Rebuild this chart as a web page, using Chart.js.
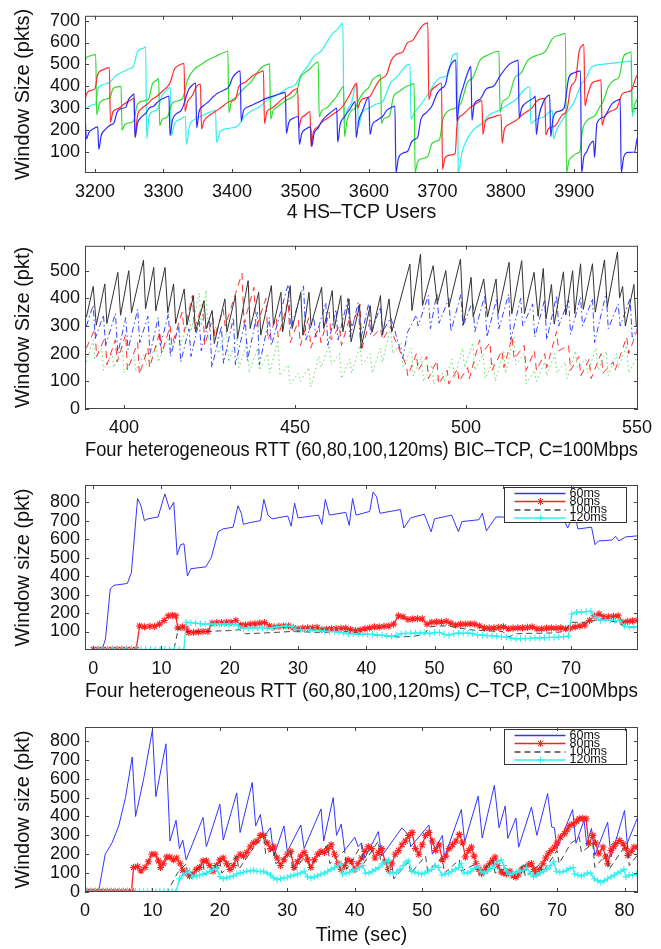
<!DOCTYPE html>
<html><head><meta charset="utf-8">
<script src="https://cdn.jsdelivr.net/npm/chart.js@4/dist/chart.umd.min.js"></script>
<style>
html,body{margin:0;padding:0;background:#fff;}
body{width:661px;height:949px;position:relative;overflow:hidden;}
canvas{position:absolute;left:0;}
</style>
</head><body>
<canvas id="c1"></canvas><canvas id="c2"></canvas><canvas id="c3"></canvas><canvas id="c4"></canvas>
<script>
// ---------------- Panel 1 : 4 HS-TCP users ----------------
const p1XTicks = [3200,3300,3400,3500,3600,3700,3800,3900];
const p1YTicks = [100,200,300,400,500,600,700];
const p1Blue = [[3185,315],[3187.5,160],[3191,188],[3197,205],[3204,215],[3205.5,112],[3209,175],[3214,200],[3222,222],[3228,235],[3232,280],[3238,298],[3245,305],[3249,340],[3255,360],[3257,365],[3258.5,165],[3262,230],[3268,260],[3275,280],[3279,300],[3286,310],[3292,330],[3300,345],[3308,355],[3309.5,175],[3313,245],[3319,275],[3326,290],[3330,320],[3336,380],[3342,405],[3347,415],[3348.5,210],[3352,285],[3358,310],[3366,330],[3372,350],[3380,370],[3390,385],[3396,400],[3401,440],[3407,462],[3412,470],[3413.5,240],[3417,290],[3423,305],[3432,318],[3440,330],[3450,345],[3460,355],[3470,365],[3478,372],[3479.5,185],[3483,235],[3490,255],[3497,262],[3498.5,135],[3502,185],[3508,205],[3515,215],[3516.5,125],[3520,185],[3526,210],[3532,245],[3540,270],[3548,290],[3553,300],[3554.5,145],[3558,225],[3564,260],[3572,295],[3580,330],[3581.5,165],[3585,240],[3591,290],[3597,340],[3600,350],[3601.5,180],[3605,225],[3612,245],[3620,262],[3626,290],[3634,305],[3638,310],[3639.5,5],[3643,70],[3650,95],[3657,105],[3662,145],[3668,160],[3671,165],[3676,250],[3684,280],[3692,310],[3700,370],[3706,390],[3712,410],[3716,470],[3722,510],[3727,520],[3728.5,240],[3732,330],[3738,400],[3744,460],[3749,490],[3750.5,245],[3754,320],[3762,340],[3772,390],[3782,400],[3792,450],[3805,500],[3814,515],[3818,520],[3819.5,255],[3823,300],[3832,330],[3840,345],[3843,355],[3844.5,180],[3848,260],[3855,330],[3864,360],[3865.5,170],[3869,255],[3876,285],[3885,300],[3892,440],[3900,462],[3909,470],[3910.5,5],[3914,80],[3918,100],[3922,130],[3928,150],[3929.5,75],[3933,230],[3943,260],[3955,320],[3962,335],[3967,340],[3968.5,5],[3972,75],[3978,98],[3988,100],[3991,150],[3995,205]];
const p1Red = [[3185,330],[3188,368],[3195,382],[3200,390],[3204,455],[3212,476],[3221,485],[3222.5,235],[3226,282],[3234,298],[3242,318],[3250,333],[3257,345],[3258.5,170],[3262,265],[3268,298],[3276,318],[3284,342],[3292,358],[3300,382],[3306,398],[3310,420],[3316,478],[3324,498],[3330,505],[3331.5,285],[3335,328],[3342,358],[3348,398],[3354,410],[3355.5,205],[3359,240],[3366,265],[3374,282],[3382,298],[3390,318],[3398,333],[3405,340],[3410,398],[3420,420],[3430,448],[3440,463],[3446,470],[3447.5,230],[3451,283],[3458,300],[3466,320],[3474,343],[3482,358],[3490,382],[3496,390],[3497.5,210],[3501,252],[3507,268],[3514,285],[3515.5,125],[3519,192],[3525,213],[3532,238],[3540,255],[3548,273],[3556,290],[3562,310],[3570,350],[3578,398],[3582,415],[3583.5,300],[3588,335],[3596,348],[3602,355],[3608,390],[3616,430],[3626,455],[3633,520],[3640,545],[3650,560],[3656,598],[3664,610],[3672,650],[3680,682],[3686,690],[3687.5,340],[3691,378],[3698,400],[3706,415],[3707.5,20],[3711,72],[3718,86],[3726,92],[3729,235],[3736,268],[3746,298],[3756,320],[3765,335],[3766.5,180],[3770,238],[3780,258],[3793,270],[3794.5,140],[3798,205],[3806,228],[3815,245],[3826,275],[3838,300],[3846,335],[3857,345],[3858.5,178],[3862,205],[3872,220],[3882,268],[3889,290],[3895,398],[3902,432],[3907,560],[3911,585],[3914,590],[3915.5,310],[3919,355],[3926,415],[3934,425],[3939,430],[3940.5,222],[3944,258],[3952,285],[3962,300],[3970,365],[3978,375],[3984,385],[3990,440],[3995,462]];
const p1Green = [[3185,500],[3187,528],[3192,538],[3201,545],[3202.5,270],[3206,318],[3212,338],[3222,350],[3226,388],[3232,397],[3238,400],[3239.5,200],[3243,223],[3250,233],[3256,240],[3262,318],[3270,333],[3278,340],[3284,412],[3290,428],[3293,435],[3294.5,220],[3298,248],[3306,262],[3312,318],[3320,333],[3328,345],[3335,428],[3345,478],[3355,500],[3365,520],[3375,535],[3385,550],[3394,560],[3395.5,280],[3399,328],[3406,350],[3414,378],[3420,398],[3428,420],[3436,458],[3444,488],[3452,500],[3455,502],[3456.5,250],[3460,288],[3466,305],[3472,320],[3480,338],[3488,350],[3494,370],[3500,438],[3506,460],[3514,480],[3520,500],[3526,510],[3527.5,260],[3531,288],[3538,300],[3546,328],[3552,350],[3558,380],[3563,400],[3564.5,170],[3568,243],[3574,288],[3580,300],[3586,343],[3594,378],[3600,395],[3605,428],[3612,445],[3617,452],[3618.5,230],[3622,253],[3630,265],[3636,353],[3644,375],[3652,395],[3660,405],[3666,412],[3667.5,5],[3671,55],[3678,70],[3686,80],[3692,138],[3700,150],[3703,155],[3708,248],[3716,288],[3726,300],[3734,320],[3744,418],[3752,440],[3762,518],[3772,540],[3790,560],[3791.5,280],[3795,328],[3804,350],[3813,438],[3822,460],[3832,518],[3844,540],[3858,560],[3868,618],[3880,635],[3887,642],[3888.5,5],[3892,58],[3897,78],[3903,93],[3908,100],[3912,200],[3920,248],[3930,266],[3936,300],[3942,330],[3950,400],[3958,428],[3965,440],[3972,538],[3980,553],[3983,557],[3984.5,280],[3989,325],[3995,354]];
const p1Cyan = [[3185,290],[3190,305],[3196,315],[3201,320],[3205,393],[3212,408],[3222,420],[3230,448],[3240,465],[3250,480],[3256,490],[3262,558],[3270,573],[3274,580],[3275.5,160],[3279,263],[3285,285],[3292,300],[3298,358],[3304,380],[3310,395],[3311.5,175],[3316,228],[3325,250],[3332,262],[3333.5,135],[3338,218],[3346,250],[3356,265],[3366,280],[3376,290],[3377.5,145],[3383,193],[3395,208],[3408,218],[3420,268],[3430,290],[3440,305],[3452,338],[3462,355],[3472,373],[3482,393],[3492,405],[3502,458],[3510,490],[3520,538],[3530,560],[3538,598],[3546,638],[3554,660],[3559,680],[3562,690],[3563.5,245],[3568,288],[3575,330],[3580,398],[3583,410],[3584.5,215],[3590,278],[3600,300],[3612,320],[3620,330],[3632,418],[3640,440],[3650,478],[3656,498],[3660,500],[3661.5,250],[3666,278],[3672,300],[3685,358],[3697,418],[3705,440],[3715,450],[3722,538],[3729,550],[3730.5,3],[3736,98],[3745,168],[3755,208],[3765,230],[3775,268],[3790,290],[3805,320],[3815,340],[3828,388],[3835,398],[3836.5,230],[3845,250],[3855,260],[3868,290],[3869.5,160],[3874,200],[3885,258],[3892,293],[3900,330],[3910,408],[3918,440],[3925,488],[3940,500],[3960,507],[3975,512],[3983,515],[3984.5,263],[3990,300],[3995,318]];

// ---------------- Panel 2 : BIC-TCP ----------------
const p2XTicks = [400,450,500,550];
const p2YTicks = [0,100,200,300,400,500];
const p2Black = [[389,332],[391,443],[391.9,303],[394.4,452],[395,309],[398.2,494],[399,339],[401.4,500],[402.2,348],[405.7,538],[406.3,362],[408.7,512],[409.3,355],[412,512],[412.8,348],[414.5,452],[415.1,309],[417.6,434],[418.4,303],[420.3,410],[420.9,279],[423.4,392],[424,290],[425.8,356],[426.4,237],[429.5,398],[430.1,279],[432.6,410],[433.2,255],[436.3,464],[436.9,291],[439.4,422],[440,267],[443.1,446],[443.7,303],[445.9,422],[446.4,279],[448.6,446],[449.2,291],[451.7,422],[452.3,267],[454.1,422],[454.7,303],[457.8,440],[458.4,291],[460.9,428],[461.5,291],[463.4,410],[464,279],[465.8,398],[466.4,243],[468.9,374],[469.3,219],[472,374],[472.6,279],[475,410],[475.6,267],[477.5,398],[478.3,279],[483.6,524],[484.2,356],[486.7,560],[487.3,374],[490.4,518],[491.6,380],[494.1,500],[495,368],[498.4,542],[499.2,303],[501.5,476],[502.1,333],[505.2,470],[506.3,333],[508.8,470],[509.4,345],[512.6,530],[513.4,344],[516.3,536],[517.1,344],[519.9,494],[521.1,335],[522.6,508],[523.4,325],[525,450],[525.8,307],[528.5,496],[529.2,340],[531.2,500],[531.8,345],[533.5,525],[534.3,360],[537,525],[537.8,350],[540.5,539],[541.3,370],[544.3,568],[544.9,401],[545.8,443],[546.6,300],[549.1,450],[549.8,300],[550.5,305]];
const p2Blue = [[389,300],[391,375],[391.6,255],[394,340],[394.6,230],[397.5,345],[398.2,200],[400.5,330],[401.2,215],[404,360],[404.6,240],[407,335],[407.6,200],[410,330],[410.6,225],[413,345],[413.6,190],[416,300],[416.6,170],[419,290],[419.6,190],[422,320],[422.6,210],[425,330],[425.7,150],[428.5,300],[429.1,165],[432,330],[432.6,160],[435.5,320],[436.1,175],[439,350],[439.6,160],[442.5,330],[443.1,230],[448,450],[448.7,290],[452.5,445],[453.2,250],[455.5,330],[456.1,260],[459,385],[459.6,230],[462,360],[462.6,250],[465.5,400],[466.1,260],[468.5,385],[469.1,245],[471.5,380],[472.1,270],[475,370],[475.6,280],[478,330],[478.8,300],[481.5,183],[483,280],[485.5,340],[486,300],[489,410],[489.6,290],[491.5,420],[492.1,310],[495,400],[495.6,280],[498.5,415],[499.1,300],[502,390],[502.6,280],[505.5,410],[506.1,260],[509,400],[509.6,290],[512.5,415],[513.1,250],[516,400],[516.6,300],[519.5,380],[520.1,260],[523,395],[523.6,250],[526.5,410],[527.1,300],[530,395],[530.6,270],[533.5,405],[534.1,300],[537,400],[537.6,240],[541,420],[541.6,290],[544.5,380],[545.1,300],[548,400],[548.6,260],[550.5,300]];
const p2Red = [[389,220],[391.5,290],[392,190],[394.5,260],[395,160],[397.5,250],[398,170],[400.5,270],[401,140],[404,240],[404.5,125],[407,220],[407.5,150],[410.5,280],[411,200],[413.5,300],[414,230],[417,350],[417.6,280],[420,410],[420.6,290],[423,380],[423.6,230],[426,330],[426.6,260],[429,360],[429.6,300],[434.5,490],[435.1,310],[438,440],[438.6,290],[441.5,400],[442.1,250],[444.5,330],[445.1,260],[448,390],[448.6,240],[451,320],[451.6,230],[454,330],[454.6,220],[457,300],[457.6,240],[460,350],[460.6,250],[463,300],[463.6,230],[466,330],[466.6,300],[469,380],[469.6,220],[472,320],[472.6,260],[475,290],[475.6,250],[478,300],[478.6,270],[481,200],[482.5,160],[483,120],[485.5,200],[486,140],[488.5,190],[489,110],[491.5,175],[492,90],[494.5,140],[495,90],[497.5,145],[498,100],[500.5,150],[501,110],[504,250],[504.6,200],[507,240],[507.6,140],[510.5,210],[511.1,150],[513.5,260],[514.1,180],[517,230],[517.6,140],[520,210],[520.6,140],[523,200],[523.6,150],[526.5,280],[527.1,210],[530,230],[530.6,140],[533,190],[533.6,120],[536,180],[536.6,110],[539.5,200],[540.1,130],[543,170],[543.6,140],[547,260],[547.6,200],[550.5,300]];
const p2Green = [[389,170],[391,250],[391.5,180],[393.5,220],[394,140],[396.5,200],[397,150],[399.5,230],[400,130],[403,190],[403.5,140],[406,200],[406.5,160],[409.5,230],[410,170],[413,260],[413.5,200],[416,300],[416.6,230],[419,330],[419.6,280],[422,420],[422.6,300],[424,430],[424.6,250],[427,300],[427.6,200],[430,280],[430.6,170],[433,260],[433.6,150],[436,240],[436.6,130],[439,220],[439.6,140],[442,200],[442.6,130],[445,250],[445.6,120],[448,160],[448.6,90],[451,130],[451.6,100],[454,150],[454.6,80],[457,190],[457.6,150],[460,230],[460.6,160],[463,200],[463.6,110],[466,180],[466.6,130],[469,230],[469.6,160],[472,200],[472.6,130],[475,220],[475.6,170],[478,300],[478.6,200],[481,240],[481.6,150],[484,220],[484.6,120],[487,190],[487.6,100],[490,160],[490.6,90],[493,130],[493.6,100],[496,180],[496.6,110],[499,220],[499.6,150],[502,240],[502.6,140],[505,200],[505.6,110],[508,170],[508.6,100],[511,210],[511.6,130],[514,260],[514.6,160],[517,200],[517.6,90],[520,140],[520.6,100],[523,170],[523.6,120],[526,200],[526.6,130],[529,170],[529.6,110],[532,210],[532.6,150],[535,180],[535.6,130],[538,220],[538.6,140],[541,210],[541.6,120],[544,200],[544.6,150],[547,230],[547.6,130],[550.5,200]];

// ---------------- Panel 3 : C-TCP ----------------
const p3XTicks = [0,10,20,30,40,50,60,70];
const p3YTicks = [100,200,300,400,500,600,700,800];
const rttLabels = ['60ms','80ms','100ms','120ms'];
const p3Blue = [[-1.2,0],[1.3,0],[1.8,60],[2.5,330],[3,350],[5,360],[5.6,420],[6.5,820],[7,780],[7.5,700],[8,710],[9.5,720],[10.5,845],[11.2,760],[11.8,800],[12.3,515],[12.8,570],[13.3,575],[13.8,400],[14.3,440],[16.5,450],[17.3,500],[18.3,640],[19,655],[20.5,665],[21.2,780],[21.7,740],[22,680],[23,690],[24.5,700],[25,815],[25.6,730],[26.2,710],[28.5,725],[29,670],[29.5,795],[30,715],[33,730],[33.5,680],[34,815],[34.6,730],[37,745],[37.5,675],[38,820],[38.5,730],[40.5,750],[41,855],[41.5,830],[42,740],[45,760],[45.5,660],[46.5,715],[48.5,735],[49.5,640],[50,710],[52.5,730],[53.5,640],[54,695],[56.5,705],[57,740],[57.6,645],[59,720],[60,720],[61,700],[62,740],[64,740],[66,720],[68,740],[69,700],[69.5,660],[70.5,745],[71,655],[73,665],[73.5,570],[74,590],[76,595],[76.5,615],[77,590],[78,612],[79.8,618]];
const p3Red = [[0,3],[0.7,3],[1.4,3],[2.1,3],[2.8,3],[3.5,3],[4.2,3],[4.9,3],[5.6,3],[6.3,3],[6.8,130],[7.5,125],[8.3,128],[9,128],[9.7,140],[10.4,160],[11,185],[11.6,188],[12.1,185],[12.4,120],[13.1,125],[13.6,118],[14,95],[14.7,95],[15.4,98],[16.1,100],[16.8,100],[17.4,145],[18.1,148],[18.8,148],[19.5,150],[20.2,150],[20.9,160],[21.6,135],[22.3,135],[23,140],[23.7,142],[24.4,145],[25.1,148],[25.8,130],[26.5,125],[27.2,128],[27.9,130],[28.6,130],[29.3,120],[30,115],[30.7,118],[31.4,120],[32.1,120],[32.8,122],[33.5,110],[34.2,112],[34.9,115],[35.6,115],[36.3,117],[37,118],[37.7,110],[38.4,105],[39.1,108],[39.8,115],[40.5,120],[41.2,125],[41.9,125],[42.6,128],[43.3,130],[44,140],[44.7,185],[45.4,180],[46.1,165],[46.8,168],[47.5,170],[48.2,168],[48.9,140],[49.6,150],[50.3,152],[51,152],[51.7,155],[52.4,145],[53.1,135],[53.8,140],[54.5,140],[55.2,142],[55.9,140],[56.6,130],[57.3,120],[58,118],[58.7,120],[59.4,122],[60.1,125],[60.8,115],[61.5,118],[62.2,120],[62.9,120],[63.6,122],[64.3,125],[65,115],[65.7,115],[66.4,118],[67.1,120],[67.8,118],[68.5,120],[69.2,115],[69.9,120],[70.6,125],[71.3,130],[72,135],[72.7,160],[73.4,185],[74.1,195],[74.8,180],[75.5,180],[76.2,182],[76.9,185],[77.6,150],[78.3,155],[79,158],[79.7,160]];
const p3Black = [[-1.2,0],[11.8,0],[12.5,120],[13,100],[16,100],[20,105],[21.5,110],[22.3,88],[25,92],[29,100],[31,98],[33,95],[35,98],[37,100],[38,95],[40,85],[43,75],[45,70],[47,75],[48.5,85],[49.3,125],[50.5,130],[52,130],[53.5,120],[55,110],[57,105],[60,100],[60.8,70],[62,88],[64,90],[67,92],[69,100],[70,150],[72,150],[73,155],[74,165],[75,160],[77,150],[78,120],[79.8,125]];
const p3Cyan = [[0,3],[0.7,3],[1.4,3],[2.1,3],[2.8,3],[3.5,3],[4.2,3],[4.9,3],[5.6,3],[6.3,3],[7,3],[7.7,3],[8.4,3],[9.1,3],[9.8,3],[10.5,3],[11.2,3],[11.9,3],[12.6,3],[13.3,3],[13.6,150],[14.3,148],[15,145],[15.7,142],[16.4,140],[17.1,142],[17.8,140],[18.5,140],[19.2,142],[19.9,140],[20.6,140],[21.3,130],[22,118],[22.7,118],[23.4,120],[24.1,120],[24.8,122],[25.5,118],[26.2,120],[26.9,125],[27.6,128],[28.3,130],[29,128],[29.7,112],[30.4,110],[31.1,110],[31.8,108],[32.5,105],[33.2,105],[33.9,102],[34.6,100],[35.3,100],[36,98],[36.7,92],[37.4,88],[38.1,88],[38.8,85],[39.5,85],[40.2,85],[40.9,85],[41.6,82],[42.3,80],[43,78],[43.7,75],[44.4,80],[45.1,88],[45.8,90],[46.5,90],[47.2,92],[47.9,92],[48.6,95],[49.3,88],[50,95],[50.7,95],[51.4,85],[52.1,80],[52.8,88],[53.5,92],[54.2,90],[54.9,92],[55.6,88],[56.3,82],[57,80],[57.7,78],[58.4,78],[59.1,75],[59.8,72],[60.5,70],[61.2,65],[61.9,60],[62.6,62],[63.3,62],[64,63],[64.7,65],[65.4,65],[66.1,66],[66.8,68],[67.5,68],[68.2,70],[68.9,72],[69.6,75],[70.1,195],[70.8,205],[71.5,205],[72.2,208],[72.9,210],[73.6,175],[74.3,160],[75,162],[75.7,162],[76.4,160],[77.1,158],[77.8,130],[78.5,125],[79.2,125],[79.8,125]];

// ---------------- Panel 4 : time series ----------------
const p4XTicks = [0,10,20,30,40,50,60,70,80];
const p4YTicks = [0,100,200,300,400,500,600,700,800];
const p4Blue = [[0,0],[2,0],[3,200],[4,260],[5,350],[6,500],[7,715],[7.5,400],[8.7,600],[10,860],[10.5,505],[12,785],[12.6,270],[13.5,380],[14,230],[14.5,275],[15,170],[17.5,395],[18,240],[20,465],[20.5,275],[22.5,525],[23,315],[24.8,580],[25.3,350],[26,410],[26.5,290],[27.5,340],[28,190],[29.5,350],[30,215],[32,355],[32.5,230],[35,440],[35.4,270],[36.8,500],[37.3,300],[38,360],[38.5,220],[40,290],[40.5,240],[41,260],[41.5,180],[43.5,320],[44,190],[47,340],[48,300],[48.3,240],[51,355],[51.5,200],[53,300],[53.3,185],[55.8,437],[56.3,265],[58.3,508],[58.9,286],[60.7,565],[61.4,340],[62.3,455],[62.7,284],[63.9,392],[64.3,238],[66.2,450],[67,300],[68.6,522],[69.2,345],[69.6,340],[70,230],[72.3,437],[72.8,258],[74,380],[74.4,250],[75.1,337],[75.6,194],[77.5,370],[78,185],[80,432],[80.4,258],[82,400]];
const p4Red = [[0.3,3],[0.9,3],[1.5,3],[2.1,3],[2.7,3],[3.3,3],[3.9,3],[4.5,3],[5.1,3],[5.7,3],[6.3,3],[6.9,5],[7.2,130],[7.8,135],[8.3,112],[8.9,130],[9.4,160],[9.9,200],[10.4,200],[10.9,165],[11.2,130],[11.6,150],[12.1,185],[12.6,185],[13.1,170],[13.6,180],[14.1,150],[14.5,115],[15,100],[15.5,85],[16,95],[16.5,120],[17,130],[17.5,165],[18,165],[18.5,140],[19,110],[19.5,140],[20,170],[20.5,180],[21,150],[21.5,120],[22,140],[22.5,180],[23,200],[23.5,190],[24,210],[24.5,240],[25,260],[25.5,270],[26,300],[26.5,300],[27,260],[27.5,230],[28,240],[28.5,180],[29,140],[29.5,170],[30,200],[30.5,215],[31,130],[31.5,160],[32,190],[32.5,210],[33,170],[33.5,130],[34,170],[34.5,200],[35,215],[35.5,210],[36,230],[36.5,250],[37,200],[37.5,150],[38,120],[38.5,140],[39,170],[39.5,160],[40,120],[40.5,150],[41,180],[41.5,215],[42,240],[42.5,230],[43,180],[43.5,210],[44,230],[44.5,160],[45,120],[45.5,150],[46,200],[46.5,220],[47,250],[47.5,270],[48,300],[48.5,315],[49,230],[49.5,200],[50,250],[50.5,300],[51,315],[51.5,270],[52,220],[52.5,250],[53,170],[53.5,190],[54,230],[54.5,250],[55,270],[55.5,305],[56,260],[56.4,185],[56.9,220],[57.3,238],[57.7,190],[58,150],[58.4,120],[58.8,97],[59.2,110],[59.5,132],[60,150],[60.4,168],[60.8,185],[61.2,140],[61.7,106],[62.1,100],[62.5,97],[63,110],[63.5,85],[63.9,79],[64.3,95],[64.7,115],[65,125],[65.4,132],[65.8,145],[66.2,150],[66.6,120],[66.9,97],[67.4,120],[67.9,150],[68.3,180],[68.7,203],[69.1,220],[69.6,238],[70,260],[70.5,290],[71.1,309],[71.5,330],[71.9,353],[72.4,360],[72.9,375],[73.3,388],[73.8,390],[74.3,388],[74.7,256],[75.3,300],[75.7,260],[76.2,203],[76.8,238],[77.2,185],[77.5,150],[78,220],[78.4,240],[78.7,256],[79.3,273],[79.8,255],[80.2,230],[80.5,194],[81,215],[81.4,238],[82,238]];
const p4Black = [[0,0],[12.2,0],[13.7,100],[15,150],[15.3,80],[17.5,150],[17.8,90],[20,160],[20.3,100],[22.5,190],[22.8,120],[25.5,260],[26.5,290],[26.8,200],[28,230],[28.3,150],[30.5,210],[30.8,110],[33,200],[33.3,130],[36,250],[36.3,150],[38.5,220],[38.8,120],[41,250],[41.3,150],[43.5,270],[43.8,170],[45.5,150],[45.8,70],[48,160],[48.3,100],[50.5,190],[50.8,110],[53,180],[53.3,100],[55.5,170],[55.8,110],[58,150],[58.3,90],[60.5,170],[60.8,100],[62.5,130],[62.8,80],[65,140],[65.3,80],[67.5,150],[67.8,100],[70,220],[70.3,150],[72,256],[73.3,291],[73.6,210],[75.3,256],[75.6,130],[77.4,203],[77.7,120],[80.4,260],[80.7,140],[82,200]];
const p4Cyan = [[0.3,3],[0.9,3],[1.5,3],[2.1,3],[2.7,3],[3.3,3],[3.9,3],[4.5,3],[5.1,3],[5.7,3],[6.3,3],[6.9,3],[7.5,3],[8.1,3],[8.7,3],[9.3,3],[9.9,3],[10.5,3],[11.1,3],[11.7,3],[12.3,3],[12.9,3],[13.5,3],[14,70],[14.5,90],[15,100],[15.5,110],[16,80],[16.5,85],[17,90],[17.5,95],[18,100],[18.5,110],[19,120],[19.5,125],[20,80],[20.5,70],[21,75],[21.5,80],[22,85],[22.5,95],[23,100],[23.5,105],[24,110],[24.5,112],[25,115],[25.5,110],[26,108],[26.5,110],[27,100],[27.5,90],[28,75],[28.5,65],[29,70],[29.5,75],[30,78],[30.5,85],[31,90],[31.5,95],[32,100],[32.5,110],[33,80],[33.5,75],[34,80],[34.5,85],[35,95],[35.5,100],[36,110],[36.5,120],[37,130],[37.5,140],[38,150],[38.2,95],[38.7,100],[39.2,105],[39.7,115],[40.2,120],[40.7,130],[41.2,140],[41.6,100],[42.1,100],[42.6,110],[43.1,120],[43.6,130],[44.1,150],[44.6,160],[45,170],[45.2,100],[45.7,100],[46.2,105],[46.7,120],[47.2,140],[47.6,160],[48,165],[48.4,110],[48.9,105],[49.4,100],[49.9,95],[50.4,100],[50.9,110],[51.4,120],[51.9,140],[52.4,130],[52.9,90],[53.4,95],[53.9,100],[54.4,110],[54.9,120],[55.4,130],[55.8,150],[56.2,100],[56.7,100],[57.2,110],[57.7,125],[58.2,140],[58.7,110],[59.2,100],[59.7,110],[60.2,125],[60.7,140],[61.2,160],[61.7,170],[62.1,140],[62.5,110],[63,93],[63.5,100],[64,105],[64.5,110],[65,115],[65.5,130],[66,100],[66.5,80],[67,90],[67.5,100],[68,110],[68.5,120],[69,140],[69.5,160],[69.9,110],[70.4,105],[70.9,108],[71.4,115],[71.9,125],[72.4,130],[72.6,95],[73.1,90],[73.6,85],[74,90],[74.5,100],[75,100],[75.5,70],[76,60],[76.5,50],[77,60],[77.5,70],[78,80],[78.5,90],[79,100],[79.5,110],[79.9,120],[80.2,80],[80.7,90],[81.2,90],[81.8,95]];

// ---------------- rendering ----------------
const FONT = "'Liberation Sans', Arial, Helvetica, sans-serif";
Chart.defaults.font.family = FONT;
Chart.defaults.color = '#111';

function xy(a){ return a.map(p => ({x: p[0], y: p[1]})); }
function ds(label, pts, color, extra){
  return Object.assign({label: label, data: xy(pts), borderColor: color, backgroundColor: color,
    borderWidth: 1, pointRadius: 0, fill: false, tension: 0}, extra || {});
}

function makeBox(showLegend){
  return {
    id: 'box',
    afterDatasetsDraw(chart){
      const ctx = chart.ctx, a = chart.chartArea, sx = chart.scales.x, sy = chart.scales.y;
      ctx.save();
      if (showLegend){
        const w = 122, h = 35, x0 = Math.round(a.right - 12 - w) + 0.5, y0 = Math.round(a.top + 2) + 0.5;
        ctx.fillStyle = '#fff'; ctx.fillRect(x0, y0, w, h);
        ctx.strokeStyle = '#333'; ctx.lineWidth = 1; ctx.setLineDash([]); ctx.strokeRect(x0, y0, w, h);
        const rows = [6, 14, 22.5, 30.5];
        chart.data.datasets.forEach((d, i) => {
          const y = y0 + rows[i];
          ctx.strokeStyle = d.borderColor; ctx.lineWidth = 1.4;
          ctx.setLineDash(d.borderDash || []);
          ctx.beginPath(); ctx.moveTo(x0 + 10, y); ctx.lineTo(x0 + 61, y); ctx.stroke();
          ctx.setLineDash([]);
          if (d.pointRadius > 0){
            ctx.lineWidth = 1;
            Chart.helpers.drawPoint(ctx, {pointStyle: d.pointStyle, radius: d.pointRadius, borderWidth: 1, rotation: 0}, x0 + 36, y);
          }
          ctx.fillStyle = '#111'; ctx.font = '12.5px ' + FONT; ctx.textBaseline = 'middle'; ctx.textAlign = 'left';
          ctx.fillText(d.label, x0 + 65, y);
        });
      }
      ctx.setLineDash([]);
      ctx.strokeStyle = '#444'; ctx.lineWidth = 1;
      ctx.strokeRect(a.left + 0.5, a.top + 0.5, a.right - a.left - 1, a.bottom - a.top - 1);
      const L = 4;
      ctx.beginPath();
      sx.ticks.forEach(t => { const p = Math.round(sx.getPixelForValue(t.value)) + 0.5;
        ctx.moveTo(p, a.bottom); ctx.lineTo(p, a.bottom - L); ctx.moveTo(p, a.top); ctx.lineTo(p, a.top + L); });
      sy.ticks.forEach(t => { const p = Math.round(sy.getPixelForValue(t.value)) + 0.5;
        ctx.moveTo(a.left, p); ctx.lineTo(a.left + L, p); ctx.moveTo(a.right, p); ctx.lineTo(a.right - L, p); });
      ctx.stroke();
      ctx.restore();
    }
  };
}

function panel(c){
  const cv = document.getElementById(c.id);
  cv.width = 661; cv.height = c.h; cv.style.top = c.top + 'px';
  cv.style.width = '661px'; cv.style.height = c.h + 'px';
  return new Chart(cv, {
    type: 'line',
    data: {datasets: c.datasets},
    options: {
      responsive: false, animation: false, devicePixelRatio: 1, events: [],
      layout: {padding: {top: c.frameTop - c.top, right: 23, left: 0, bottom: 0}},
      plugins: {legend: {display: false}, tooltip: {enabled: false}},
      scales: {
        x: {type: 'linear', min: c.xMin, max: c.xMax,
          afterBuildTicks: s => { s.ticks = c.xTicks.map(v => ({value: v})); },
          afterFit: s => { s.height = c.h - (c.frameBottom - c.top); },
          grid: {display: false, drawTicks: false}, border: {display: false},
          ticks: {autoSkip: false, maxRotation: 0, minRotation: 0, padding: 8, font: {size: 18}, color: '#111', callback: v => String(v)},
          title: {display: true, text: c.xTitle, font: {size: 19.5}, color: '#111', padding: {top: 0, bottom: c.xTitlePad}}},
        y: {type: 'linear', min: c.yMin, max: c.yMax,
          afterBuildTicks: s => { s.ticks = c.yTicks.map(v => ({value: v})); },
          afterFit: s => { s.width = 85; },
          grid: {display: false, drawTicks: false}, border: {display: false},
          ticks: {autoSkip: false, padding: 5, font: {size: 18}, color: '#111', callback: v => String(v)},
          title: {display: true, text: c.yTitle, font: {size: 20}, color: '#111', padding: {top: 11, bottom: 0}}}
      }
    },
    plugins: [makeBox(c.legend)]
  });
}

const mono = {cubicInterpolationMode: 'monotone', borderWidth: 1.2};
const starPts = {pointStyle: 'star', pointRadius: 3.6, pointBorderWidth: 1.1, pointBorderColor: '#ff2020', borderWidth: 1.3};
const crossPts = {pointStyle: 'cross', pointRadius: 3.2, pointBorderWidth: 1.1, pointBorderColor: '#2ff0f0', borderWidth: 1.3};

panel({id: 'c1', top: 0, h: 230, frameTop: 9, frameBottom: 173,
  xMin: 3185.4, xMax: 3993, yMin: 4, yMax: 722, xTicks: p1XTicks, yTicks: p1YTicks,
  xTitle: '4 HS\u2013TCP Users', yTitle: 'Window Size (pkts)', xTitlePad: 6,
  datasets: [
    ds('user1', p1Blue, '#2b2bff', mono),
    ds('user2', p1Red, '#ff2b2b', mono),
    ds('user3', p1Green, '#2fdc2f', mono),
    ds('user4', p1Cyan, '#33eeee', mono)
  ]});

panel({id: 'c2', top: 230, h: 235, frameTop: 244, frameBottom: 409,
  xMin: 388.6, xMax: 550.3, yMin: 0, yMax: 590, xTicks: p2XTicks, yTicks: p2YTicks,
  xTitle: 'Four heterogeneous RTT (60,80,100,120ms) BIC\u2013TCP, C=100Mbps', yTitle: 'Window Size (pkt)', xTitlePad: 3,
  datasets: [
    ds('60ms', p2Black, '#333333', {order: 0}),
    ds('80ms', p2Blue, '#3344ff', {borderDash: [6, 3, 1.5, 3], order: 1}),
    ds('100ms', p2Red, '#ff3030', {borderDash: [7, 5], order: 2}),
    ds('120ms', p2Green, '#5fdc5f', {borderDash: [1.5, 3], order: 3})
  ]});

panel({id: 'c3', top: 465, h: 240, frameTop: 485, frameBottom: 650,
  xMin: -1.2, xMax: 79.8, yMin: 0, yMax: 893, xTicks: p3XTicks, yTicks: p3YTicks,
  xTitle: 'Four heterogeneous RTT (60,80,100,120ms) C\u2013TCP, C=100Mbps', yTitle: 'Window size (pkt)', xTitlePad: 2,
  legend: true,
  datasets: [
    ds(rttLabels[0], p3Blue, '#3434ff', {order: 3}),
    ds(rttLabels[1], p3Red, '#ff2020', Object.assign({order: 2}, starPts)),
    ds(rttLabels[2], p3Black, '#444444', {order: 1, borderDash: [6, 4]}),
    ds(rttLabels[3], p3Cyan, '#2ff0f0', Object.assign({order: 0}, crossPts))
  ]});

panel({id: 'c4', top: 705, h: 244, frameTop: 727, frameBottom: 892,
  xMin: 0, xMax: 82, yMin: 0, yMax: 874, xTicks: p4XTicks, yTicks: p4YTicks,
  xTitle: 'Time (sec)', yTitle: 'Window size (pkt)', xTitlePad: 2,
  legend: true,
  datasets: [
    ds(rttLabels[0], p4Blue, '#3434ff', {order: 3}),
    ds(rttLabels[1], p4Red, '#ff2020', Object.assign({order: 2}, starPts)),
    ds(rttLabels[2], p4Black, '#444444', {order: 1, borderDash: [6, 4]}),
    ds(rttLabels[3], p4Cyan, '#2ff0f0', Object.assign({order: 0}, crossPts))
  ]});
</script>
</body></html>
